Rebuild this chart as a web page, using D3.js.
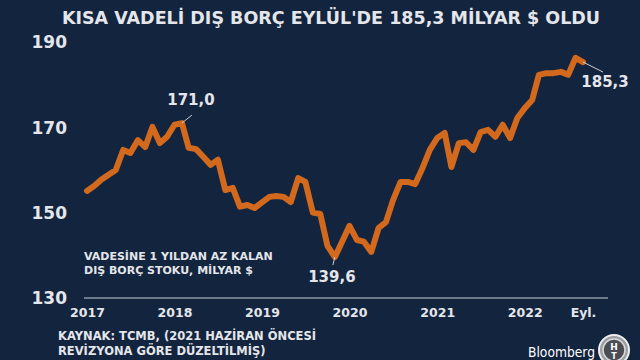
<!DOCTYPE html>
<html><head><meta charset="utf-8">
<script src="https://cdn.jsdelivr.net/npm/d3@7"></script>
<style>
html,body{margin:0;padding:0;background:#13243f;}
svg{display:block;}
text{font-family:"DejaVu Sans",sans-serif;}
</style></head>
<body>
<script>
const title = "KISA VADELİ DIŞ BORÇ EYLÜL'DE 185,3 MİLYAR $ OLDU";
const startMonth = "2017-01";
const values = [155.1,156.3,157.7,158.9,160.0,164.7,164.0,167.0,165.4,170.1,166.3,167.8,170.6,171.0,
165.2,164.9,163.1,161.2,162.4,155.3,155.8,151.4,151.8,151.1,152.4,153.7,153.9,153.7,152.5,158.1,157.2,150.0,149.7,142.2,139.6,143.2,
146.9,143.6,143.2,140.8,146.4,147.8,153.0,157.2,157.2,156.7,160.5,164.7,167.5,168.7,160.7,166.3,166.5,164.7,168.9,169.4,167.8,170.6,
167.5,172.2,174.5,176.4,182.3,182.7,182.7,183.0,182.3,186.3,185.3];
const yTicks = [130,150,170,190];
const xTickLabels = ["2017","2018","2019","2020","2021","2022","Eyl."];
const xTickDates = ["2017-01","2018-01","2019-01","2020-01","2021-01","2022-01","2022-09"];
const annotations = [{idx:13,label:"171,0"},{idx:34,label:"139,6"},{idx:68,label:"185,3"}];
const noteLines = ["VADESİNE 1 YILDAN AZ KALAN","DIŞ BORÇ STOKU, MİLYAR $"];
const sourceLines = ["KAYNAK: TCMB, (2021 HAZİRAN ÖNCESİ","REVİZYONA GÖRE DÜZELTİLMİŞ)"];

const parse = d3.timeParse("%Y-%m");
const t0 = parse(startMonth);
const data = values.map((v,i)=>({date:d3.timeMonth.offset(t0,i), value:v}));

const W=640,H=360;
const svg = d3.select("body").append("svg").attr("width",W).attr("height",H);
svg.append("rect").attr("width",W).attr("height",H).attr("fill","#13243f");

const x = d3.scaleTime().domain([data[0].date, data[data.length-1].date]).range([87,583]);
const y = d3.scaleLinear().domain([130,190]).range([298,42]);
const txt = "#e4e6ea";

svg.append("text").attr("x",331).attr("y",24).attr("text-anchor","middle")
  .attr("fill",txt).attr("font-weight","bold").attr("font-size",17.5).text(title);

// y axis labels
const yAxis = d3.axisLeft(y).tickValues(yTicks).tickSize(0).tickPadding(0).tickFormat(d3.format("d"));
const gy = svg.append("g").attr("transform","translate(67,0)").call(yAxis);
gy.select(".domain").remove();
gy.selectAll("text").attr("fill",txt).attr("font-weight","bold").attr("font-size",17)
  .attr("font-family","DejaVu Sans").attr("dy","0.35em");

// baseline
svg.append("line").attr("x1",84).attr("x2",608).attr("y1",y(130)).attr("y2",y(130))
  .attr("stroke","#c9cdd4").attr("stroke-width",1.2);

// x axis labels
const xAxis = d3.axisBottom(x).tickValues(xTickDates.map(parse)).tickSize(0).tickPadding(0)
  .tickFormat((d,i)=>xTickLabels[i]);
const gx = svg.append("g").attr("transform",`translate(0,${y(130)+19})`).call(xAxis);
gx.select(".domain").remove();
gx.selectAll("text").attr("fill",txt).attr("font-weight","bold").attr("font-size",12.5)
  .attr("font-family","DejaVu Sans").attr("dy",0);

// line
const line = d3.line().x(d=>x(d.date)).y(d=>y(d.value));
svg.append("path").datum(data).attr("d",line).attr("fill","none")
  .attr("stroke","#d2691c").attr("stroke-width",6).attr("stroke-linejoin","round").attr("stroke-linecap","round");

// annotations
const annStyle = {13:{dx:10,dy:-8,tx:9,ty:-18,anchor:"middle"},34:{dx:-2,dy:8,tx:-3,ty:25,anchor:"middle"},68:{dx:20,dy:10,tx:22,ty:25,anchor:"middle"}};
annotations.forEach(a=>{
  const d=data[a.idx], px=x(d.date), py=y(d.value), s=annStyle[a.idx];
  svg.append("line").attr("x1",px).attr("y1",py).attr("x2",px+s.dx).attr("y2",py+s.dy)
    .attr("stroke","#c9cdd4").attr("stroke-width",1);
  svg.append("text").attr("x",px+s.tx).attr("y",py+s.ty).attr("text-anchor",s.anchor)
    .attr("fill",txt).attr("font-weight","bold").attr("font-size",15).text(a.label);
});

// note
noteLines.forEach((l,i)=>svg.append("text").attr("x",84).attr("y",260+i*14).attr("fill",txt)
  .attr("font-weight","bold").attr("font-size",11).text(l));
// source
sourceLines.forEach((l,i)=>svg.append("text").attr("x",58).attr("y",340+i*15).attr("fill",txt)
  .attr("font-weight","bold").attr("font-size",11.5).text(l));

// Bloomberg logo
svg.append("text").attr("x",528).attr("y",357).attr("fill","#ffffff")
  .attr("font-family","Liberation Sans, Arial, sans-serif").attr("font-size",14)
  .attr("textLength",67).attr("lengthAdjust","spacingAndGlyphs").text("Bloomberg");
const lg = svg.append("g").attr("transform","translate(614,350)");
lg.append("circle").attr("r",15).attr("fill","#9a9ea4").attr("stroke","#eeeeee").attr("stroke-width",2);
lg.append("circle").attr("r",11).attr("fill","#4a4e54").attr("stroke","#d8d8d8").attr("stroke-width",1.5);
lg.append("text").attr("text-anchor","middle").attr("y",0).attr("fill","#ffffff")
  .attr("font-weight","bold").attr("font-size",9).text("H");
lg.append("text").attr("text-anchor","middle").attr("y",8.5).attr("fill","#ffffff")
  .attr("font-weight","bold").attr("font-size",8).text("T");
</script>
</body></html>
